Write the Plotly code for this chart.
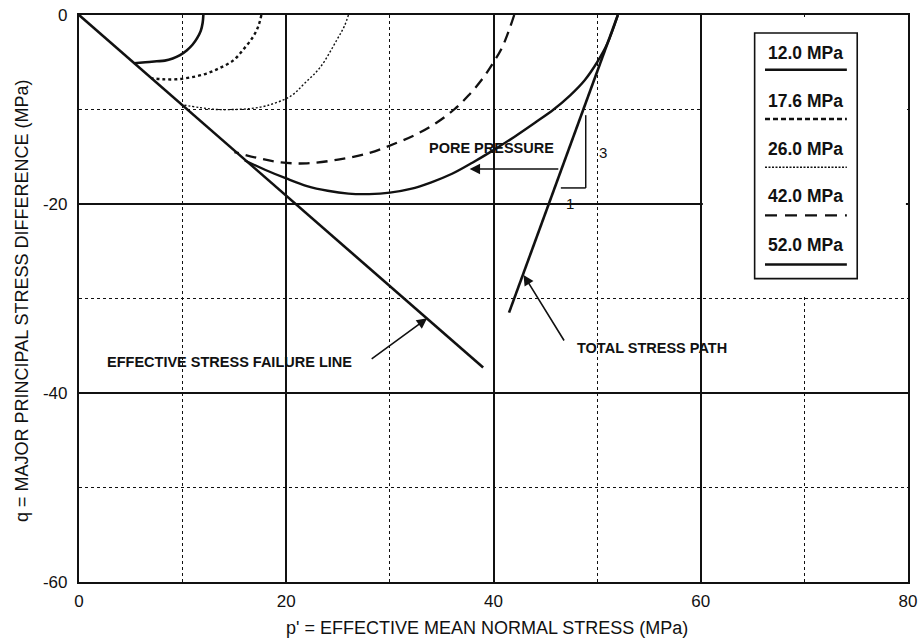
import plotly.graph_objects as go

# ---------------- data ----------------
p_12 = [12.0, 11.93, 11.75, 11.40, 10.95, 10.39, 9.75, 9.04, 8.28, 7.5, 6.4, 5.3]
q_12 = [0.0, -0.85, -1.68, -2.45, -3.15, -3.75, -4.24, -4.60, -4.83, -4.9, -5.0, -5.1]

p_17 = [17.6, 17.3, 16.8, 15.9, 14.9, 13.6, 12.3, 10.8, 9.4, 8.1, 7.0]
q_17 = [0.0, -1.2, -2.3, -3.6, -4.8, -5.6, -6.2, -6.6, -6.8, -6.8, -6.7]

p_26 = [26.0, 25.6, 24.9, 23.3, 21.8, 20.4, 18.1, 16.5, 14.9, 13.3, 11.7, 9.9]
q_26 = [0.0, -1.2, -2.6, -5.5, -7.2, -8.6, -9.6, -9.9, -10.0, -10.0, -9.8, -9.5]

p_42 = [42.0, 41.5, 40.8, 40.0, 38.9, 37.6, 36.2, 34.5, 32.6, 30.5, 28.0, 25.0, 22.0, 19.5, 17.5, 15.0]
q_42 = [0.0, -1.6, -3.5, -5.0, -6.8, -8.5, -10.0, -11.4, -12.6, -13.6, -14.6, -15.3, -15.7, -15.6, -15.2, -14.5]

p_52 = [52.0, 51.0, 50.0, 48.8, 47.4, 45.8, 44.0, 42.0, 40.0, 38.0, 36.0, 34.0, 32.0, 30.0, 28.0,
        26.0, 24.0, 22.0, 20.0, 18.0, 16.0]
q_52 = [0.0, -3.0, -5.0, -6.9, -8.5, -10.0, -11.4, -12.9, -14.3, -15.6, -16.8, -17.7, -18.4, -18.8, -18.95,
        -18.9, -18.6, -18.1, -17.3, -16.4, -15.4]

p_failure = [0.0, 39.0]
q_failure = [0.0, -37.3]

p_total = [41.5, 52.0]
q_total = [-31.5, 0.0]

series_labels = ["12.0 MPa", "17.6 MPa", "26.0 MPa", "42.0 MPa", "52.0 MPa"]

x_ticks = [0, 20, 40, 60, 80]
x_ticktext = ["0", "20", "40", "60", "80"]
y_ticks = [0, -20, -40, -60]
y_ticktext = ["0", "-20", "-40", "-60"]

# ---------------- styling ----------------
FONT = "Liberation Sans, Arial, Helvetica, sans-serif"
K = "#111111"

styles = [
    dict(width=2.6, dash="solid"),
    dict(width=2.4, dash="3px,3px"),
    dict(width=1.4, dash="2px,2px"),
    dict(width=2.3, dash="11px,7px"),
    dict(width=2.4, dash="solid"),
]
legend_dash = ["solid", "5px,3px", "2px,1.5px", "12px,8px", "solid"]

fig = go.Figure()
curves = [(p_12, q_12), (p_17, q_17), (p_26, q_26), (p_42, q_42), (p_52, q_52)]
for (px, qy), st, name in zip(curves, styles, series_labels):
    fig.add_trace(go.Scatter(x=px, y=qy, mode="lines", name=name,
                             line=dict(color=K, width=st["width"], dash=st["dash"], shape="spline", smoothing=1.0),
                             showlegend=False, hoverinfo="skip"))

fig.add_trace(go.Scatter(x=p_failure, y=q_failure, mode="lines", line=dict(color=K, width=2.6),
                         showlegend=False, hoverinfo="skip"))
fig.add_trace(go.Scatter(x=p_total, y=q_total, mode="lines", line=dict(color=K, width=2.6),
                         showlegend=False, hoverinfo="skip"))

shapes = []
# blank the legend area of the grid (grid lines stop at p'=60 above q=-30)
shapes.append(dict(type="rect", xref="x", yref="y", x0=60.2, x1=79.8, y0=-0.2, y1=-29.8,
                   fillcolor="white", line=dict(width=0), layer="between"))
# slope triangle
shapes.append(dict(type="line", xref="x", yref="y", x0=48.9, x1=48.9, y0=-10.6, y1=-18.3,
                   line=dict(color=K, width=1.5)))
shapes.append(dict(type="line", xref="x", yref="y", x0=46.5, x1=48.9, y0=-18.3, y1=-18.3,
                   line=dict(color=K, width=1.5)))

# custom legend box
shapes.append(dict(type="rect", xref="x", yref="y", x0=65.2, x1=75.1, y0=-1.9, y1=-27.9,
                   fillcolor="white", line=dict(color=K, width=1.6)))
legend_line_y = [-5.8, -11.0, -16.1, -21.2, -26.4]
legend_text_y = [-4.0, -9.1, -14.2, -19.2, -24.3]
annotations = []
for i, name in enumerate(series_labels):
    shapes.append(dict(type="line", xref="x", yref="y", x0=66.2, x1=74.1,
                       y0=legend_line_y[i], y1=legend_line_y[i],
                       line=dict(color=K, width=styles[i]["width"] if i != 2 else 1.5, dash=legend_dash[i])))
    annotations.append(dict(x=70.1, y=legend_text_y[i], xref="x", yref="y", text=name, showarrow=False,
                            font=dict(family=FONT, size=17.5, color=K, weight="bold")))

# text labels and arrows
afont = dict(family=FONT, size=14.5, color=K, weight="bold")
annotations += [
    dict(x=39.8, y=-14.1, xref="x", yref="y", text="PORE PRESSURE", showarrow=False, font=afont),
    dict(x=50.6, y=-14.6, xref="x", yref="y", text="3", showarrow=False,
         font=dict(family=FONT, size=15, color=K)),
    dict(x=47.4, y=-19.9, xref="x", yref="y", text="1", showarrow=False,
         font=dict(family=FONT, size=15, color=K)),
    dict(x=14.5, y=-36.7, xref="x", yref="y", text="EFFECTIVE STRESS FAILURE LINE", showarrow=False, font=afont),
    dict(x=55.3, y=-35.2, xref="x", yref="y", text="TOTAL STRESS PATH", showarrow=False, font=afont),
    # arrows
    dict(x=37.7, y=-16.3, ax=46.4, ay=-16.3, xref="x", yref="y", axref="x", ayref="y", text="",
         showarrow=True, arrowhead=2, arrowsize=1.3, arrowwidth=1.6, arrowcolor=K),
    dict(x=33.6, y=-32.1, ax=28.1, ay=-36.5, xref="x", yref="y", axref="x", ayref="y", text="",
         showarrow=True, arrowhead=2, arrowsize=1.3, arrowwidth=1.6, arrowcolor=K),
    dict(x=42.9, y=-27.5, ax=46.9, ay=-34.6, xref="x", yref="y", axref="x", ayref="y", text="",
         showarrow=True, arrowhead=2, arrowsize=1.3, arrowwidth=1.6, arrowcolor=K),
    # axis titles
    dict(x=-0.069, y=0.497, xref="paper", yref="paper", xanchor="center", yanchor="middle",
         textangle=-90, showarrow=False,
         text="q = MAJOR PRINCIPAL STRESS DIFFERENCE (MPa)",
         font=dict(family=FONT, size=18, color=K)),
    dict(x=0.492, y=-0.081, xref="paper", yref="paper", xanchor="center", yanchor="middle",
         showarrow=False,
         text="p' = EFFECTIVE MEAN NORMAL STRESS (MPa)",
         font=dict(family=FONT, size=18, color=K)),
]

axis_common = dict(showline=True, linecolor=K, linewidth=2.2, mirror=True,
                   showgrid=True, gridcolor=K, gridwidth=1.5, zeroline=False, ticks="",
                   tickfont=dict(family=FONT, size=17, color=K))

fig.update_xaxes(range=[0, 80], tickvals=x_ticks, ticktext=x_ticktext, ticklabelstandoff=2,
                 minor=dict(dtick=10, tick0=0, showgrid=True, gridcolor=K, gridwidth=1.3, griddash="dot"),
                 **axis_common)
fig.update_yaxes(range=[-60, 0], tickvals=y_ticks, ticktext=y_ticktext, ticklabelstandoff=6,
                 minor=dict(dtick=10, tick0=0, showgrid=True, gridcolor=K, gridwidth=1.3, griddash="dot"),
                 **axis_common)

fig.update_layout(width=919, height=639, margin=dict(l=79, r=11, t=15, b=57, autoexpand=False),
                  paper_bgcolor="white", plot_bgcolor="white",
                  shapes=shapes, annotations=annotations, showlegend=False,
                  font=dict(family=FONT, color=K))

fig.write_html("out.html")
